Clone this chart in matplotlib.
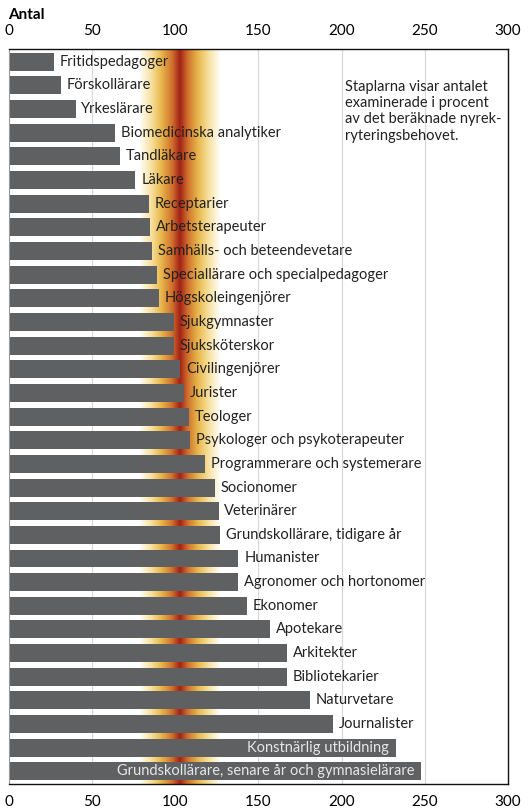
import numpy as np
import matplotlib.pyplot as plt
from matplotlib.colors import LinearSegmentedColormap

# data
categories = ['Fritidspedagoger', 'Förskollärare', 'Yrkeslärare', 'Biomedicinska analytiker',
              'Tandläkare', 'Läkare', 'Receptarier', 'Arbetsterapeuter',
              'Samhälls- och beteendevetare', 'Speciallärare och specialpedagoger',
              'Högskoleingenjörer', 'Sjukgymnaster', 'Sjuksköterskor', 'Civilingenjörer',
              'Jurister', 'Teologer', 'Psykologer och psykoterapeuter',
              'Programmerare och systemerare', 'Socionomer', 'Veterinärer',
              'Grundskollärare, tidigare år', 'Humanister', 'Agronomer och hortonomer',
              'Ekonomer', 'Apotekare', 'Arkitekter', 'Bibliotekarier', 'Naturvetare',
              'Journalister', 'Konstnärlig utbildning',
              'Grundskollärare, senare år och gymnasielärare']
values = [27, 31, 40, 64, 67, 76, 84, 85, 86, 89, 90, 99, 99, 103, 105, 108, 109,
          118, 124, 126, 127, 138, 138, 143, 157, 167, 167, 181, 195, 232.5, 248]
inside = ['Konstnärlig utbildning', 'Grundskollärare, senare år och gymnasielärare']
xticks = [0, 50, 100, 150, 200, 250, 300]

plt.rcParams['font.family'] = ['Lato', 'DejaVu Sans']

fig = plt.figure(figsize=(5.29, 8.08), dpi=100)
ax = fig.add_axes([0.017, 0.030, 0.943, 0.909])

n = len(categories)
ylo, yhi = n - 0.5 + 0.02, -0.5 - 0.02
ax.set_xlim(0, 300)
ax.set_ylim(ylo, yhi)

# gradient band around 100
cmap = LinearSegmentedColormap.from_list('band', [
    (0.0, (1, 1, 1)),
    (0.15, (0.97, 0.88, 0.62)),
    (0.27, (0.91, 0.72, 0.30)),
    (0.40, (0.82, 0.45, 0.18)),
    (0.50, (0.64, 0.13, 0.09)),
    (0.60, (0.82, 0.45, 0.18)),
    (0.72, (0.91, 0.72, 0.30)),
    (0.85, (0.97, 0.88, 0.62)),
    (1.0, (1, 1, 1))])
grad = np.linspace(0, 1, 256).reshape(1, -1)
ax.imshow(grad, cmap=cmap, aspect='auto', extent=[78, 127, ylo, yhi], zorder=1)

for x in [50, 150, 200, 250]:
    ax.axvline(x, color='#d9d9d9', lw=0.9, zorder=0)

y = np.arange(n)
ax.barh(y, values, height=0.76, color='#5f6062', zorder=2)

for yi, cat, v in zip(y, categories, values):
    if cat in inside:
        ax.text(v - 4, yi, cat, va='center', ha='right', fontsize=10.5, color='#e6e6e6', zorder=3)
    else:
        ax.text(v + 3.5, yi, cat, va='center', ha='left', fontsize=10.5, color='#222222', zorder=3)

ax.text(202, 2.1, 'Staplarna visar antalet\nexaminerade i procent\nav det beräknade nyrek-\nryteringsbehovet.',
        fontsize=10.5, color='#222222', va='center', ha='left', linespacing=1.2, zorder=3)

ax.set_xticks(xticks)
ax.set_xticklabels([str(t) for t in xticks], fontsize=11)
ax.tick_params(axis='x', which='both', length=0, pad=8, labeltop=True, top=False)
ax.set_yticks([])
for s in ['top', 'right', 'bottom']:
    ax.spines[s].set_color('#111111')
    ax.spines[s].set_linewidth(1.0)
ax.spines['left'].set_color('#999999')

fig.text(0.015, 0.982, 'Antal', fontsize=11, fontweight='bold', ha='left', va='center')

fig.savefig('out.png', dpi=100)
